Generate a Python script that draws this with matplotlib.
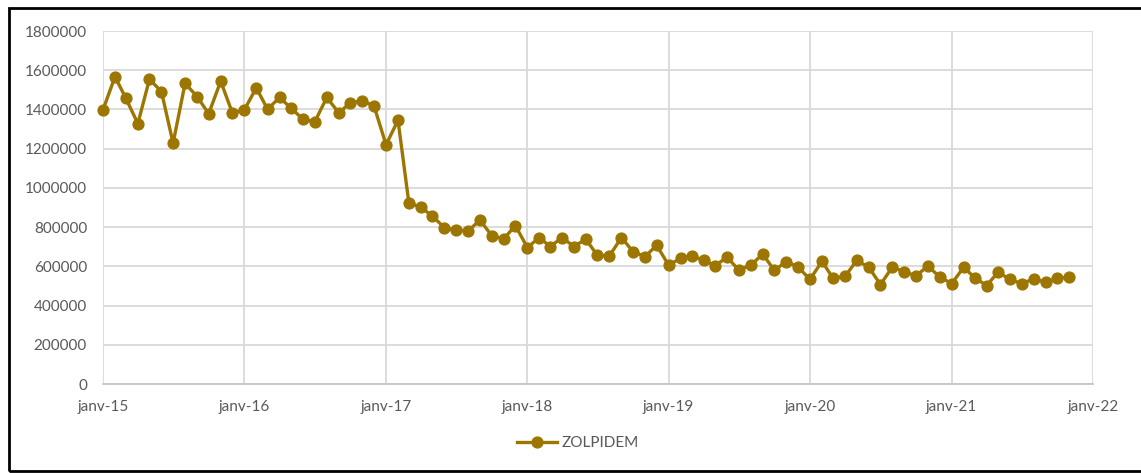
import matplotlib
matplotlib.use("Agg")
import matplotlib.pyplot as plt
from matplotlib.patches import Rectangle
import pandas as pd

# Monthly ZOLPIDEM volumes, Jan 2015 – Nov 2021
months = pd.date_range("2015-01-01", "2021-11-01", freq="MS")
zolpidem = [
    1398000, 1567000, 1457000, 1328000, 1554000, 1491000, 1228000, 1533000, 1466000, 1378000, 1544000, 1383000,  # 2015
    1398000, 1510000, 1401000, 1461000, 1406000, 1349000, 1337000, 1461000, 1383000, 1434000, 1444000, 1418000,  # 2016
    1220000, 1345000, 923000, 902000, 855000, 797000, 784000, 782000, 835000, 757000, 740000, 808000,          # 2017
    696000, 747000, 701000, 747000, 701000, 738000, 656000, 653000, 747000, 675000, 650000, 707000,            # 2018
    606000, 641000, 655000, 631000, 604000, 646000, 582000, 606000, 662000, 580000, 624000, 597000,            # 2019
    533000, 626000, 538000, 550000, 631000, 595000, 507000, 597000, 570000, 553000, 601000, 546000,            # 2020
    512000, 595000, 543000, 502000, 570000, 533000, 512000, 536000, 518000, 538000, 546000,                    # 2021
]
series_name = "ZOLPIDEM"

year_ticks = pd.date_range("2015-01-01", "2022-01-01", freq="YS")
year_labels = ["janv-15", "janv-16", "janv-17", "janv-18", "janv-19", "janv-20", "janv-21", "janv-22"]
y_ticks = [0, 200000, 400000, 600000, 800000, 1000000, 1200000, 1400000, 1600000, 1800000]

W, H = 1141, 473
fig = plt.figure(figsize=(W / 100, H / 100), dpi=100)
plt.rcParams["font.family"] = ["Lato", "DejaVu Sans"]

ax = fig.add_axes([103 / W, 1 - 384 / H, (1093 - 103) / W, (384 - 31) / H])

line_color = "#9C7600"
text_color = "#595959"
grid_color = "#d9d9d9"

ax.plot(months, zolpidem, color=line_color, lw=2.4, marker="o", ms=7.8,
        markeredgecolor=line_color, markerfacecolor=line_color, label=series_name,
        zorder=3, clip_on=False)

ax.set_xlim(year_ticks[0], year_ticks[-1])
ax.set_ylim(0, 1800000)
ax.set_xticks(year_ticks)
ax.set_xticklabels(year_labels)
ax.set_yticks(y_ticks)
ax.set_yticklabels([str(v) for v in y_ticks])

ax.grid(True, color=grid_color, lw=1.3, zorder=0)
ax.set_axisbelow(True)
for side in ("top", "right", "left"):
    ax.spines[side].set_visible(False)
ax.spines["bottom"].set_color("#c6c6c6")
ax.spines["bottom"].set_linewidth(1.3)

ax.tick_params(axis="both", length=0, labelsize=11, colors=text_color)
ax.tick_params(axis="y", pad=11.5)
ax.tick_params(axis="x", pad=11.5)

fig.legend(loc="center", bbox_to_anchor=(578 / W, 1 - 443 / H), frameon=False,
           fontsize=11, labelcolor=text_color, handlelength=2.6, handletextpad=0.3)

# Outer chart frame (open on the right)
fig.patches.append(Rectangle((8.5 / W, 1 - 471 / H), 1.2, (471 - 8.5) / H,
                             transform=fig.transFigure, fill=False,
                             edgecolor="black", lw=2, clip_on=False))

fig.savefig("out.png", dpi=100)
